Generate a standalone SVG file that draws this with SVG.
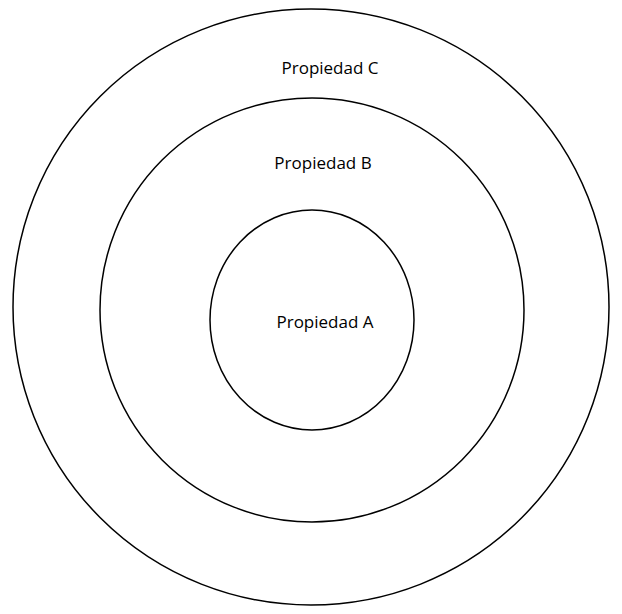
<svg xmlns="http://www.w3.org/2000/svg" width="622" height="614" viewBox="0 0 622 614">
<style>
.ring{fill:none;stroke:#000;stroke-width:1.5}
.lbl{font-family:"Open Sans","DejaVu Sans",sans-serif;font-size:17px;fill:#000;text-anchor:middle}
</style>
<rect width="622" height="614" fill="#fff"/>
<g id="propiedad-c">
<circle class="ring" cx="311" cy="307" r="298"/>
<text class="lbl" x="330" y="74">Propiedad C</text>
</g>
<g id="propiedad-b">
<circle class="ring" cx="312" cy="310" r="212"/>
<text class="lbl" x="323" y="169">Propiedad B</text>
</g>
<g id="propiedad-a">
<ellipse class="ring" cx="312" cy="320" rx="102" ry="110"/>
<text class="lbl" x="325" y="328">Propiedad A</text>
</g>
<g id="connectors"></g>
</svg>
